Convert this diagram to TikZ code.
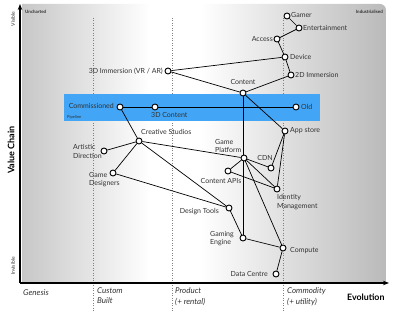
\documentclass[tikz,border=0pt]{standalone}
\usepackage{fontspec}
\setmainfont{Lato}
\usetikzlibrary{arrows.meta}
\pgfdeclarelayer{bg}
\pgfdeclarelayer{edges}
\pgfsetlayers{bg,edges,main}
\definecolor{pipe}{RGB}{66,165,245}
\definecolor{txt}{RGB}{50,50,50}
\begin{document}
\begin{tikzpicture}[x=1pt,y=-1pt,
  comp/.style={circle,draw,fill=white,inner sep=0pt,minimum size=6pt,line width=0.9pt},
  lab/.style={font=\fontsize{7}{8.7}\selectfont,text=txt,inner sep=0pt},
  tiny/.style={font=\fontsize{4.5}{5}\selectfont\bfseries,text=txt,inner sep=0pt},
  evo/.style={font=\fontsize{8}{10.5}\selectfont\itshape,text=txt,inner sep=0pt,align=left,anchor=north west},
  link/.style={line width=0.7pt},
  axis/.style={line width=1.3pt,-{Stealth[length=6pt,width=4.5pt]}},
  stage/.style={dotted,gray,line width=0.5pt}
]
\useasboundingbox (0,0) rectangle (400,312);
\begin{pgfonlayer}{bg}
  \begin{scope}
    \clip (22,300) -- (22,4) -- (380,4) .. controls (383.3,4) and (386,6.7) .. (386,10) -- (386,300) -- cycle;
    \shade[left color=black!22,right color=white] (22,4) rectangle (150,283);
    \fill[white] (150,4) rectangle (200,283);
    \shade[left color=white,right color=black!27] (200,4) rectangle (386,283);
  \end{scope}
  \draw[stage] (93,18) -- (93,312);
  \draw[stage] (172,18) -- (172,312);
  \draw[stage] (283,18) -- (283,312);
  \fill[pipe] (64,94) rectangle (320,121);
\end{pgfonlayer}

\coordinate (o) at (20,283);
\coordinate (ytop) at (20,4);
\coordinate (xend) at (389,283);
\draw[axis] (o) -- (ytop);
\draw[axis] (o) -- (xend);

\node[comp] (gamer) at (287,16) {};
\node[comp] (ent) at (299,28) {};
\node[comp] (access) at (277,39) {};
\node[comp] (device) at (285,57) {};
\node[comp] (imm2d) at (291,75) {};
\node[comp] (content) at (243,93) {};
\node[comp] (imm3d) at (168,71) {};
\node[comp] (comm) at (120,107) {};
\node[comp] (c3d) at (155,107) {};
\node[comp] (old) at (296,107) {};
\node[comp] (app) at (285,131) {};
\node[comp] (studios) at (139,141) {};
\node[comp] (artdir) at (104,151) {};
\node[comp] (gdes) at (113,173) {};
\node[comp] (gplat) at (244,158) {};
\node[comp] (cdn) at (271,168) {};
\node[comp] (capi) at (228,171) {};
\node[comp] (idm) at (277,189) {};
\node[comp] (dtools) at (229,208) {};
\node[comp] (gengine) at (243,238) {};
\node[comp] (compute) at (283,248) {};
\node[comp] (dc) at (276,274) {};

\begin{pgfonlayer}{edges}
  \draw[link] (gamer) -- (ent);
  \draw[link] (ent) -- (access);
  \draw[link] (access) -- (device);
  \draw[link] (device) -- (imm2d);
  \draw[link] (imm3d) -- (device);
  \draw[link] (imm3d) -- (content);
  \draw[link] (content) -- (imm2d);
  \draw[link] (content) -- (app);
  \draw[link] (content) -- (gengine);
  \draw[link] (comm) -- (c3d);
  \draw[link] (c3d) -- (old);
  \draw[link] (comm) -- (studios);
  \draw[link] (studios) -- (artdir);
  \draw[link] (studios) -- (gdes);
  \draw[link] (studios) -- (gplat);
  \draw[link] (studios) -- (dtools);
  \draw[link] (gdes) -- (dtools);
  \draw[link] (dtools) -- (gengine);
  \draw[link] (gengine) -- (compute);
  \draw[link] (compute) -- (dc);
  \draw[link] (gplat) -- (cdn);
  \draw[link] (gplat) -- (idm);
  \draw[link] (gplat) -- (compute);
  \draw[link] (capi) -- (gplat);
  \draw[link] (capi) -- (idm);
  \draw[link] (app) -- (cdn);
  \draw[link] (app) -- (idm);
\end{pgfonlayer}

\node[lab,anchor=west] (lgamer) at (291,15) {Gamer};
\node[lab,anchor=west] (lent) at (303,28) {Entertainment};
\node[lab,anchor=east] (laccess) at (273,39) {Access};
\node[lab,anchor=west] (ldevice) at (290,57) {Device};
\node[lab,anchor=west] (limm2d) at (295,75) {2D Immersion};
\node[lab] (lcontent) at (243,82) {Content};
\node[lab,anchor=east] (limm3d) at (163,71) {3D Immersion (VR / AR)};
\node[lab,anchor=east] (lcomm) at (114,106) {Commissioned};
\node[lab,anchor=west] (lc3d) at (151,115) {3D Content};
\node[lab,anchor=west] (lold) at (301,107) {Old};
\node[lab,anchor=west] (lapp) at (290,131) {App store};
\node[lab,anchor=west] (lstudios) at (141,132) {Creative Studios};
\node[lab,anchor=west,align=left] (lartdir) at (73,151.5) {Artistic\\Direction};
\node[lab,anchor=west,align=left] (lgdes) at (89,179.5) {Game\\Designers};
\node[lab,anchor=west,align=left] (lgplat) at (215,146) {Game\\Platform};
\node[lab] (lcdn) at (265,158) {CDN};
\node[lab] (lcapi) at (221,181) {Content APIs};
\node[lab,anchor=west,align=left] (lidm) at (277,202) {Identity\\Management};
\node[lab,anchor=east] (ldtools) at (219,212) {Design Tools};
\node[lab,anchor=west,align=left] (lgengine) at (210,238.5) {Gaming\\Engine};
\node[lab,anchor=west] (lcompute) at (290,251) {Compute};
\node[lab,anchor=east] (ldc) at (268,274) {Data Centre};
\node[tiny,font=\fontsize{4}{5}\selectfont,anchor=west] (lpipe) at (67,117) {Pipeline};

\node[tiny,anchor=west] (unch) at (25,12) {Uncharted};
\node[tiny,anchor=east] (indus) at (383,12) {Industrialised};
\node[lab,font=\fontsize{5}{6}\selectfont,rotate=90] (vis) at (13,19) {Visible};
\node[lab,font=\fontsize{5}{6}\selectfont,rotate=90] (invis) at (13,266) {Invisible};
\node[lab,font=\fontsize{9}{10}\selectfont\bfseries,text=black,rotate=90] (vchain) at (11,150) {Value Chain};
\node[evo] (genesis) at (23,289) {Genesis};
\node[evo] (custom) at (97,287.5) {Custom\\Built};
\node[evo] (product) at (175,287.5) {Product\\(+ rental)};
\node[evo] (commod) at (287,287.5) {Commodity\\(+ utility)};
\node[lab,font=\fontsize{8.8}{10}\selectfont\bfseries,text=black,anchor=west] (evol) at (347,297) {Evolution};
\end{tikzpicture}
\end{document}
